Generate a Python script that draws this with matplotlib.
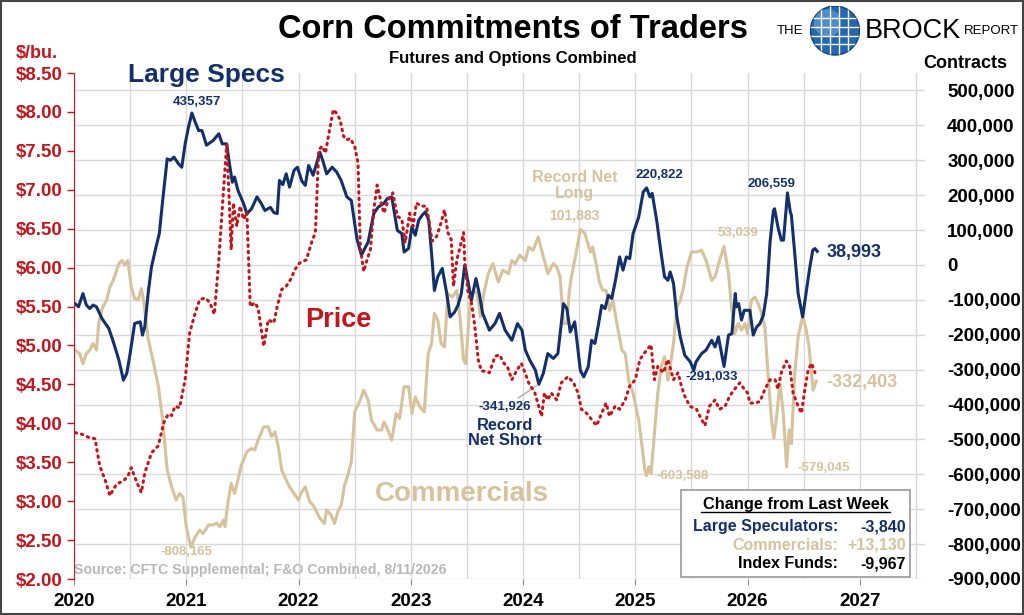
import numpy as np
import matplotlib
matplotlib.use("Agg")
import matplotlib.pyplot as plt
from matplotlib.patches import Circle, Rectangle
from matplotlib.ticker import FuncFormatter, MultipleLocator

plt.rcParams['font.family'] = ['Liberation Sans', 'DejaVu Sans']
plt.rcParams['font.weight'] = 'bold'

NAVY = '#13306b'
TAN = '#d6c29b'
RED = '#c3161c'
GRID = '#d9d9d9'

# large speculators net position (thousand contracts)
spec_dates = [2020.01, 2020.04, 2020.08, 2020.11, 2020.14, 2020.17, 2020.20, 2020.25, 2020.31, 2020.35,
              2020.40, 2020.44, 2020.47, 2020.50, 2020.54, 2020.59, 2020.61, 2020.63, 2020.66, 2020.69,
              2020.73, 2020.76, 2020.79, 2020.83, 2020.86, 2020.89, 2020.93, 2020.96, 2020.99, 2021.02,
              2021.05, 2021.08, 2021.11, 2021.14, 2021.18, 2021.24, 2021.29, 2021.32, 2021.36, 2021.38,
              2021.41, 2021.43, 2021.46, 2021.51, 2021.54, 2021.58, 2021.63, 2021.67, 2021.70, 2021.75,
              2021.78, 2021.81, 2021.83, 2021.86, 2021.89, 2021.92, 2021.96, 2021.99, 2022.03, 2022.06,
              2022.09, 2022.13, 2022.19, 2022.22, 2022.25, 2022.30, 2022.34, 2022.38, 2022.43, 2022.47,
              2022.52, 2022.56, 2022.62, 2022.67, 2022.71, 2022.76, 2022.79, 2022.83, 2022.88, 2022.92,
              2022.94, 2022.98, 2023.01, 2023.04, 2023.07, 2023.10, 2023.13, 2023.16, 2023.19, 2023.21,
              2023.24, 2023.28, 2023.32, 2023.35, 2023.39, 2023.42, 2023.45, 2023.48, 2023.51, 2023.54,
              2023.58, 2023.61, 2023.64, 2023.70, 2023.75, 2023.79, 2023.84, 2023.90, 2023.95, 2023.99,
              2024.02, 2024.06, 2024.11, 2024.14, 2024.18, 2024.22, 2024.27, 2024.31, 2024.36, 2024.39,
              2024.42, 2024.46, 2024.51, 2024.54, 2024.58, 2024.61, 2024.64, 2024.67, 2024.70, 2024.73,
              2024.76, 2024.79, 2024.82, 2024.86, 2024.89, 2024.92, 2024.95, 2024.98, 2025.03, 2025.07,
              2025.10, 2025.13, 2025.15, 2025.19, 2025.23, 2025.26, 2025.29, 2025.31, 2025.34, 2025.37,
              2025.40, 2025.44, 2025.49, 2025.52, 2025.54, 2025.59, 2025.63, 2025.68, 2025.71, 2025.74,
              2025.79, 2025.83, 2025.86, 2025.89, 2025.90, 2025.92, 2025.945, 2025.97, 2026.02, 2026.05,
              2026.08, 2026.11, 2026.14, 2026.17, 2026.20, 2026.23, 2026.24, 2026.27, 2026.30, 2026.32,
              2026.34, 2026.355, 2026.38, 2026.39, 2026.42, 2026.45, 2026.49, 2026.52, 2026.55, 2026.58,
              2026.60, 2026.62]
spec_vals = [-111, -120, -82, -115, -125, -115, -120, -154, -182, -220,
             -273, -330, -311, -254, -168, -163, -201, -178, -82, -6,
             51, 90, 185, 304, 300, 309, 290, 280, 347, 395,
             435.357, 409, 385, 385, 343, 357, 376, 347, 347, 300,
             237, 252, 214, 176, 147, 160, 195, 175, 156, 165,
             150, 147, 242, 230, 261, 223, 271, 280, 240, 228,
             285, 257, 323, 295, 261, 280, 266, 242, 195, 185,
             75, 28, 66, 147, 166, 176, 190, 195, 99, 90,
             37, 47, 109, 85, 128, 142, 152, 128, 13, -73,
             -34, -10, -82, -149, -135, -116, -82, -1, -49, -101,
             -39, -82, -139, -187, -168, -139, -187, -216, -168, -187,
             -244, -273, -302, -341.926, -311, -254, -268, -254, -111, -125,
             -192, -163, -302, -321, -292, -216, -225, -173, -116, -125,
             -87, -96, -49, 23, -15, 23, 18, 90, 137, 209,
             220.822, 195, 205, 128, 32, -34, -44, -20, -53, -149,
             -206, -259, -278, -302, -278, -254, -244, -216, -235, -206,
             -291.033, -201, -197, -82, -120, -111, -158, -130, -130, -201,
             -178, -168, -144, -82, 66, 156, 161, 109, 71, 71,
             147, 206.559, 152, 142, 32, -82, -149, -82, -15, 42,
             47, 38.993]

# commercials net position (thousand contracts)
comm_dates = [2020.01, 2020.05, 2020.08, 2020.11, 2020.14, 2020.17, 2020.20, 2020.22, 2020.25, 2020.29,
              2020.32, 2020.35, 2020.40, 2020.43, 2020.45, 2020.48, 2020.51, 2020.54, 2020.57, 2020.60,
              2020.62, 2020.66, 2020.71, 2020.75, 2020.79, 2020.83, 2020.87, 2020.91, 2020.94, 2020.97,
              2021.00, 2021.04, 2021.08, 2021.12, 2021.15, 2021.20, 2021.24, 2021.27, 2021.30, 2021.33,
              2021.345, 2021.37, 2021.40, 2021.43, 2021.46, 2021.49, 2021.54, 2021.58, 2021.61, 2021.64,
              2021.69, 2021.73, 2021.76, 2021.79, 2021.82, 2021.85, 2021.89, 2021.92, 2021.96, 2022.00,
              2022.02, 2022.06, 2022.10, 2022.13, 2022.16, 2022.19, 2022.23, 2022.25, 2022.29, 2022.32,
              2022.35, 2022.38, 2022.41, 2022.44, 2022.47, 2022.50, 2022.55, 2022.58, 2022.62, 2022.65,
              2022.70, 2022.74, 2022.76, 2022.79, 2022.83, 2022.87, 2022.90, 2022.94, 2022.98, 2023.01,
              2023.04, 2023.08, 2023.12, 2023.155, 2023.185, 2023.21, 2023.24, 2023.27, 2023.30, 2023.33,
              2023.37, 2023.41, 2023.44, 2023.47, 2023.49, 2023.53, 2023.56, 2023.59, 2023.62, 2023.65,
              2023.69, 2023.73, 2023.78, 2023.82, 2023.87, 2023.90, 2023.93, 2023.97, 2024.02, 2024.05,
              2024.09, 2024.135, 2024.165, 2024.19, 2024.22, 2024.27, 2024.30, 2024.33, 2024.36, 2024.39,
              2024.41, 2024.43, 2024.46, 2024.51, 2024.55, 2024.60, 2024.62, 2024.65, 2024.68, 2024.71,
              2024.74, 2024.77, 2024.80, 2024.83, 2024.88, 2024.91, 2024.94, 2024.98, 2025.03, 2025.06,
              2025.085, 2025.10, 2025.12, 2025.14, 2025.17, 2025.20, 2025.23, 2025.26, 2025.29, 2025.31,
              2025.34, 2025.37, 2025.40, 2025.43, 2025.46, 2025.50, 2025.54, 2025.59, 2025.63, 2025.68,
              2025.71, 2025.75, 2025.79, 2025.83, 2025.856, 2025.886, 2025.916, 2025.945, 2025.975, 2026.00,
              2026.034, 2026.064, 2026.094, 2026.124, 2026.154, 2026.183, 2026.213, 2026.234, 2026.258, 2026.288,
              2026.318, 2026.347, 2026.37, 2026.39, 2026.42, 2026.45, 2026.488, 2026.518, 2026.547, 2026.568,
              2026.583, 2026.612]
comm_vals = [-244, -254, -283, -254, -244, -225, -244, -168, -125, -101,
             -63, -44, 4, 13, -1, 13, -63, -96, -101, -68,
             -101, -211, -283, -345, -445, -588, -636, -674, -655, -665,
             -750, -808.165, -779, -760, -770, -745, -745, -740, -750, -731,
             -750, -683, -626, -655, -616, -574, -535, -526, -530, -502,
             -464, -464, -492, -478, -521, -588, -616, -636, -655, -674,
             -655, -636, -679, -688, -707, -726, -741, -702, -717, -741,
             -707, -688, -631, -602, -564, -421, -387, -359, -387, -445,
             -473, -473, -450, -468, -502, -426, -440, -349, -349, -426,
             -378, -407, -421, -254, -225, -139, -158, -225, -235, -82,
             -92, -73, -158, -273, -283, -101, -73, -82, -149, -82,
             -25, 4, -49, -15, -25, 13, 4, 28, 13, 51,
             42, 80, 42, 13, -25, 4, -6, -34, -168, -168,
             -82, -34, 13, 101.883, 90, 37, 51, 4, -49, -73,
             -73, -130, -101, -158, -244, -254, -330, -368, -445, -521,
             -588, -603.588, -578, -597, -483, -368, -292, -263, -330, -292,
             -225, -120, -101, -63, -6, 37, 37, 42, 13, -44,
             -34, 13, 53.039, -25, -120, -197, -168, -187, -168, -197,
             -101, -92, -111, -139, -178, -321, -445, -497, -435, -340,
             -426, -579.045, -473, -512, -311, -206, -149, -178, -235, -306,
             -359, -332.403]

# corn price ($/bu.)
price_dates = [2020.01, 2020.07, 2020.13, 2020.19, 2020.20, 2020.23, 2020.28, 2020.32, 2020.35, 2020.38,
               2020.44, 2020.48, 2020.51, 2020.56, 2020.60, 2020.63, 2020.69, 2020.75, 2020.80, 2020.84,
               2020.87, 2020.90, 2020.94, 2020.99, 2021.03, 2021.08, 2021.12, 2021.17, 2021.21, 2021.25,
               2021.29, 2021.33, 2021.36, 2021.38, 2021.40, 2021.42, 2021.45, 2021.48, 2021.51, 2021.54,
               2021.57, 2021.61, 2021.64, 2021.69, 2021.73, 2021.78, 2021.81, 2021.85, 2021.89, 2021.93,
               2021.97, 2022.01, 2022.07, 2022.12, 2022.15, 2022.18, 2022.21, 2022.24, 2022.26, 2022.31,
               2022.34, 2022.37, 2022.40, 2022.43, 2022.46, 2022.50, 2022.53, 2022.55, 2022.58, 2022.61,
               2022.64, 2022.67, 2022.70, 2022.73, 2022.76, 2022.80, 2022.84, 2022.88, 2022.92, 2022.95,
               2022.99, 2023.02, 2023.05, 2023.09, 2023.14, 2023.19, 2023.23, 2023.26, 2023.30, 2023.33,
               2023.36, 2023.38, 2023.41, 2023.44, 2023.47, 2023.48, 2023.51, 2023.54, 2023.57, 2023.60,
               2023.63, 2023.67, 2023.70, 2023.75, 2023.79, 2023.83, 2023.86, 2023.90, 2023.94, 2023.985,
               2024.03, 2024.05, 2024.105, 2024.165, 2024.19, 2024.22, 2024.25, 2024.30, 2024.34, 2024.40,
               2024.45, 2024.49, 2024.52, 2024.565, 2024.61, 2024.655, 2024.70, 2024.74, 2024.77, 2024.82,
               2024.86, 2024.91, 2024.95, 2025.00, 2025.04, 2025.085, 2025.14, 2025.17, 2025.20, 2025.25,
               2025.29, 2025.34, 2025.38, 2025.41, 2025.44, 2025.485, 2025.545, 2025.59, 2025.62, 2025.66,
               2025.71, 2025.75, 2025.80, 2025.84, 2025.885, 2025.93, 2025.97, 2026.00, 2026.02, 2026.065,
               2026.11, 2026.155, 2026.20, 2026.245, 2026.27, 2026.30, 2026.345, 2026.375, 2026.405, 2026.45,
               2026.48, 2026.51, 2026.54, 2026.57, 2026.60]
price_vals = [3.88, 3.86, 3.82, 3.80, 3.69, 3.45, 3.26, 3.07, 3.15, 3.22,
              3.26, 3.32, 3.43, 3.24, 3.11, 3.36, 3.62, 3.71, 4.01, 4.12,
              4.10, 4.22, 4.20, 4.56, 5.16, 5.42, 5.59, 5.61, 5.55, 5.40,
              6.10, 6.96, 7.58, 6.96, 6.23, 6.83, 6.53, 6.79, 6.62, 6.71,
              5.50, 5.55, 5.48, 4.99, 5.33, 5.29, 5.50, 5.72, 5.76, 5.85,
              5.98, 6.06, 6.10, 6.34, 6.45, 7.51, 7.56, 7.47, 7.64, 8.03,
              7.98, 7.90, 7.69, 7.64, 7.66, 7.56, 7.34, 6.27, 5.95, 6.10,
              6.23, 6.74, 7.06, 6.87, 6.70, 6.87, 6.96, 6.66, 6.62, 6.32,
              6.70, 6.53, 6.83, 6.79, 6.79, 6.34, 6.40, 6.53, 6.74, 6.45,
              6.36, 5.76, 6.10, 6.27, 6.45, 6.10, 5.68, 5.55, 5.25, 4.82,
              4.67, 4.67, 4.65, 4.86, 4.88, 4.77, 4.73, 4.56, 4.67, 4.77,
              4.60, 4.52, 4.39, 4.09, 4.39, 4.30, 4.39, 4.30, 4.52, 4.60,
              4.52, 4.39, 4.18, 4.13, 4.05, 3.97, 4.13, 4.26, 4.09, 4.22,
              4.18, 4.30, 4.48, 4.56, 4.82, 4.91, 5.01, 4.56, 4.73, 4.65,
              4.82, 4.56, 4.65, 4.48, 4.35, 4.22, 4.18, 4.05, 3.97, 4.22,
              4.30, 4.18, 4.22, 4.35, 4.44, 4.52, 4.44, 4.39, 4.26, 4.26,
              4.28, 4.44, 4.56, 4.56, 4.44, 4.65, 4.80, 4.73, 4.39, 4.22,
              4.13, 4.44, 4.69, 4.77, 4.65]

years = [2020, 2021, 2022, 2023, 2024, 2025, 2026, 2027]
contract_ticks = list(range(-900000, 500001, 100000))
price_ticks = list(np.arange(2.0, 8.51, 0.5))

change_names = ['Large Speculators:', 'Commercials:', 'Index Funds:']
change_vals = ['-3,840', '+13,130', '-9,967']
change_colors = [NAVY, TAN, 'black']

spec = np.array(spec_vals) * 1000
comm = np.array(comm_vals) * 1000

fig = plt.figure(figsize=(10.24, 6.15), dpi=100)
W, H = 1024, 615
def fx(px): return px / W
def fy(py): return 1 - py / H

ax = fig.add_axes([fx(74), fy(579), fx(925) - fx(74), fy(73) - fy(579)])
axp = ax.twinx()

ax.set_xlim(2020, 2027.58)
ax.set_ylim(-900000, 550000)
ax.set_yticks(contract_ticks)
ax.yaxis.set_major_formatter(FuncFormatter(lambda v, p: f'{v:,.0f}'))
ax.set_xticks(years)
ax.xaxis.set_minor_locator(MultipleLocator(0.5))
ax.grid(True, which='both', axis='x', color=GRID, lw=1)
ax.grid(True, which='major', axis='y', color=GRID, lw=1)
ax.set_axisbelow(True)
for s in ax.spines.values():
    s.set_visible(False)
ax.tick_params(axis='y', which='both', length=0, labelsize=13.5, pad=16,
               left=False, labelleft=False, right=True, labelright=True)
ax.tick_params(axis='x', which='major', length=4, color='#888888', labelsize=13.5, pad=6)
ax.tick_params(axis='x', which='minor', length=0)

ax.plot(comm_dates, comm, color=TAN, lw=2.2, zorder=3)
ax.plot(spec_dates, spec, color=NAVY, lw=2.2, zorder=4)

axp.set_ylim(2.0, 8.5)
axp.set_yticks(price_ticks)
axp.yaxis.set_major_formatter(FuncFormatter(lambda v, p: f'${v:.2f}'))
for s in axp.spines.values():
    s.set_visible(False)
axp.spines['left'].set_visible(True)
axp.spines['left'].set_color(RED)
axp.tick_params(axis='y', colors=RED, labelsize=13.5, length=5, width=1, pad=3,
                left=True, labelleft=True, right=False, labelright=False)
axp.plot(price_dates, price_vals, color=RED, lw=2.2, linestyle=(0, (0.5, 1.6)),
         dash_capstyle='round', zorder=5)

# series labels
ax.text(2021.18, 543000, 'Large Specs', color=NAVY, fontsize=19, ha='center', va='center', clip_on=False)
ax.text(2022.35, -158000, 'Price', color=RED, fontsize=19.5, ha='center', va='center')
ax.text(2023.455, -657000, 'Commercials', color=TAN, fontsize=20, ha='center', va='center')

# data annotations
ax.text(2021.095, 466000, '435,357', color=NAVY, fontsize=9.5, ha='center', va='center')
ax.text(2021.006, -823000, '-808,165', color=TAN, fontsize=9.5, ha='center', va='center')
ax.text(2024.46, 228000, 'Record Net\nLong', color=TAN, fontsize=11.5, ha='center', va='center',
        linespacing=1.1)
ax.text(2024.46, 142000, '101,883', color=TAN, fontsize=10, ha='center', va='center')
ax.text(2025.218, 257000, '220,822', color=NAVY, fontsize=9.5, ha='center', va='center')
ax.text(2025.913, 91000, '53,039', color=TAN, fontsize=9.5, ha='center', va='center')
ax.text(2026.21, 231000, '206,559', color=NAVY, fontsize=9.5, ha='center', va='center')
ax.text(2026.705, 36000, '38,993', color=NAVY, fontsize=13, ha='left', va='center')
ax.text(2025.68, -322000, '-291,033', color=NAVY, fontsize=9.5, ha='center', va='center')
ax.text(2026.696, -336000, '-332,403', color=TAN, fontsize=13, ha='left', va='center')
ax.text(2025.19, -605000, '-603,588', color=TAN, fontsize=9.5, ha='left', va='center')
ax.text(2026.44, -582000, '-579,045', color=TAN, fontsize=9.5, ha='left', va='center')
imin = int(np.argmin(spec))
ax.annotate('-341,926', xy=(spec_dates[imin], spec[imin]), xytext=(2023.838, -407000),
            color=NAVY, fontsize=9.5, ha='center', va='center',
            arrowprops=dict(arrowstyle='-', color='#9a9a9a', lw=0.8, shrinkA=24, shrinkB=2))
ax.text(2023.838, -482000, 'Record\nNet Short', color=NAVY, fontsize=11.8, ha='center', va='center',
        linespacing=1.0)
ax.text(2020.0, -874000, 'Source: CFTC Supplemental; F&O Combined, 8/11/2026', color='#b8b8b8',
        fontsize=10.2, ha='left', va='center')

# change box
fig.patches.append(Rectangle((fx(681), fy(577)), fx(910) - fx(681), fy(490) - fy(577),
                             transform=fig.transFigure, facecolor='white', edgecolor='#999999',
                             lw=1.2, zorder=10))
fig.text(fx(795.5), fy(504), 'Change from Last Week', fontsize=11.8, ha='center', va='center', zorder=11)
fig.add_artist(plt.Line2D([fx(701), fx(890)], [fy(512), fy(512)], color='black', lw=1, zorder=11))
for i, (nm, vl, cl) in enumerate(zip(change_names, change_vals, change_colors)):
    yy = fy(527 + 18.5 * i)
    fig.text(fx(838), yy, nm, color=cl, fontsize=11.5, ha='right', va='center', zorder=11)
    fig.text(fx(906), yy, vl, color=cl, fontsize=11.5, ha='right', va='center', zorder=11)

# titles
fig.text(fx(513), fy(30), 'Corn Commitments of Traders', fontsize=23.5, ha='center', va='center')
fig.text(fx(513), fy(58), 'Futures and Options Combined', fontsize=12, ha='center', va='center')
fig.text(fx(37), fy(53), '$/bu.', color=RED, fontsize=13, ha='center', va='center')
fig.text(fx(965), fy(63), 'Contracts', fontsize=13, ha='center', va='center')

# logo
fig.text(fx(790), fy(31), 'THE', fontsize=9.5, fontweight='normal', ha='center', va='center')
fig.text(fx(913), fy(31), 'BROCK', fontsize=19.5, fontweight='normal', ha='center', va='center')
fig.text(fx(991), fy(31), 'REPORT', fontsize=9.5, fontweight='normal', ha='center', va='center')
gax = fig.add_axes([fx(810), fy(56), fx(860) - fx(810), fy(5) - fy(56)])
gax.set_xlim(-1, 1)
gax.set_ylim(-1, 1)
gax.set_aspect('equal')
gax.axis('off')
globe = Circle((0, 0), 0.98, facecolor='#2467b0', edgecolor='#0f3f78', lw=1)
gax.add_patch(globe)
gax.add_patch(Circle((-0.3, 0.3), 0.55, facecolor='#6fa6dc', edgecolor='none', alpha=0.6))
for v in [-0.55, -0.2, 0.15, 0.5]:
    ln = gax.plot([v, v], [-1, 1], color='white', lw=1)[0]
    ln.set_clip_path(globe)
    ln2 = gax.plot([-1, 1], [v, v], color='white', lw=1)[0]
    ln2.set_clip_path(globe)

# outer frame
fig.patches.append(Rectangle((0.001, 0.001), 0.998, 0.997, transform=fig.transFigure,
                             facecolor='none', edgecolor='#444444', lw=1.5))

fig.savefig('out.png', dpi=100)
